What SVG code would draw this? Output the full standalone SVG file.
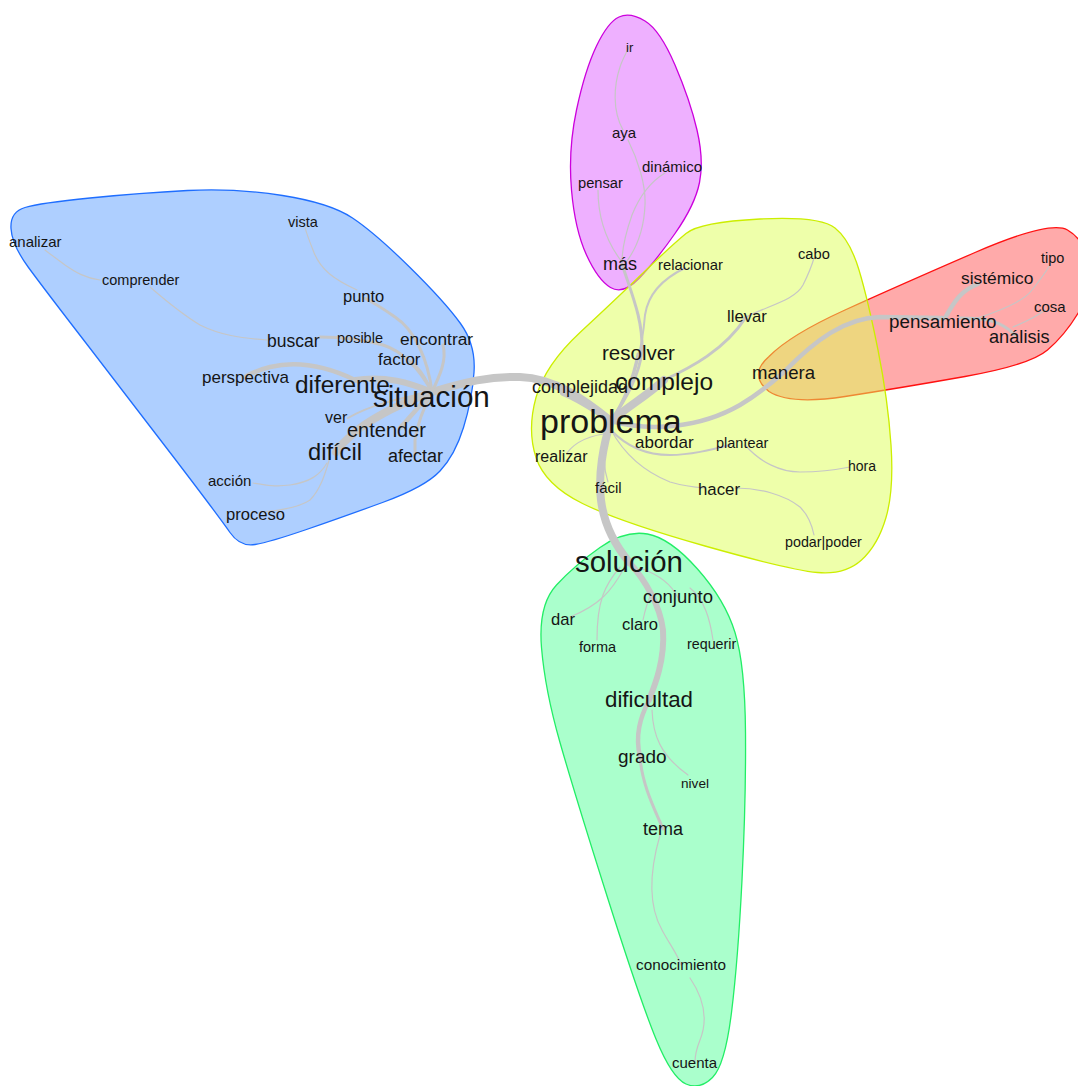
<svg xmlns="http://www.w3.org/2000/svg" width="1078" height="1086" viewBox="0 0 1078 1086">
  <style>
    .hull { stroke-width: 1.3; stroke-linejoin: round; }
    .edge { fill: none; stroke: #c6c6c6; stroke-linecap: round; }
    .w1 { stroke-width: 1.2; }
    .w2 { stroke-width: 2; }
    .w3 { stroke-width: 3; }
    .w4 { stroke-width: 4.5; }
    .w5 { stroke-width: 6; }
    .w6 { stroke-width: 8; }
    text { font-family: "Liberation Sans", Arial, sans-serif; fill: #151515; }
  </style>
  <rect width="1078" height="1086" fill="#ffffff"/>

  <!-- community hulls (half-transparent so overlaps blend) -->
  <g id="communities">
    <path class="hull" fill="#5d9fff" fill-opacity="0.5" stroke="#1f6eff" d="M11,228.5 Q10,212 25,207.5 Q40,203 90,198 Q140,193 187.5,190.5 Q235,188 282.5,195.5 Q330,203 352.5,218 Q375,233 410,267.5 Q445,302 460.5,323.5 Q476,345 474,372.5 Q472,400 463.5,427.5 Q455,455 440,471 Q425,487 382.5,502.5 Q340,518 305,530 Q270,542 255,544.5 Q240,547 230,532.5 Q220,518 175,459 Q130,400 87.5,345 Q45,290 28.5,267.5 Q12,245 11,228.5 Z"/>
    <path class="hull" fill="#55ff99" fill-opacity="0.5" stroke="#22ee66" d="M600,547.5 Q625,530 647.5,534 Q670,538 697.5,569 Q725,600 735,632.5 Q745,665 745.5,732.5 Q746,800 742,880 Q738,960 731.5,1012.5 Q725,1065 712.5,1077.5 Q700,1090 686,1084 Q672,1078 656,1039 Q640,1000 607.5,897.5 Q575,795 560,742.5 Q545,690 541.5,647.5 Q538,605 556.5,585 Q575,565 600,547.5 Z"/>
    <path class="hull" fill="#dd61ff" fill-opacity="0.5" stroke="#cc00dd" d="M619,17 Q630,12 645,21 Q660,30 675,65 Q690,100 697,130 Q704,160 699.5,182.5 Q695,205 675,233.5 Q655,262 639,278.5 Q623,295 610.5,287.5 Q598,280 586.5,255 Q575,230 571.5,190 Q568,150 576.5,110 Q585,70 596.5,46 Q608,22 619,17 Z"/>
    <path class="hull" fill="#ff5555" fill-opacity="0.5" stroke="#ff1111" d="M975,252.5 Q1050,220 1067.5,230 Q1085,240 1088.5,265 Q1092,290 1078.5,312.5 Q1065,335 1047.5,350 Q1030,365 965,376.5 Q900,388 845,396.5 Q790,405 769,391.5 Q748,375 769,356.5 Q790,335 845,310 Q900,285 975,252.5 Z"/>
    <path class="hull" fill="#ddff55" fill-opacity="0.5" stroke="#ccee00" d="M686,233.5 Q700,222 760,219 Q820,216 835,228 Q850,240 859,270 Q868,300 878,350 Q888,400 891,445 Q894,490 886,517.5 Q878,545 861.5,560 Q845,575 817.5,572.5 Q790,570 705,546 Q620,522 582.5,503.5 Q545,485 536,457.5 Q527,430 536,397.5 Q545,365 580,332.5 Q615,300 643.5,272.5 Q672,245 686,233.5 Z"/>
  </g>

  <!-- co-occurrence connectors -->
  <g id="edges">
    <!-- main spine -->
    <path class="edge w6" d="M432,392 C465,382 490,376 520,377 C555,378 585,400 611,421"/>
    <path class="edge w6" d="M611,421 C603,445 598,475 601,500 C604,525 615,545 629,562"/>
    <path class="edge w5" d="M629,562 C645,580 660,605 663,630 C665,660 655,685 649,700"/>
    <path class="edge w4" d="M649,700 C640,718 635,735 640,757"/>
    <path class="edge w3" d="M640,757 C642,785 655,810 663,829"/>
    <path class="edge w1" d="M660,835 C650,870 648,905 662,930 C670,945 678,955 681,965"/>
    <path class="edge w1" d="M690,978 C705,1000 708,1020 700,1040 C696,1050 695,1058 695,1062"/>
    <path class="edge w1" d="M652,710 C653,735 660,755 688,775"/>
    <path class="edge w1" d="M640,568 C660,575 672,585 678,598"/>
    <path class="edge w1" d="M690,588 C705,600 710,620 713,640"/>
    <path class="edge w1" d="M623,570 C612,590 600,605 570,617"/>
    <path class="edge w1" d="M620,567 C605,585 597,600 597,640"/>
    <path class="edge w1" d="M652,592 C646,605 644,615 643,620"/>

    <!-- problema neighbourhood -->
    <path class="edge w6" d="M611,421 C630,405 648,395 664,380"/>
    <path class="edge w3" d="M664,380 C690,368 725,350 746,317"/>
    <path class="edge w1" d="M746,317 C770,305 795,300 803,285 C808,275 812,265 814,258"/>
    <path class="edge w4" d="M611,421 C650,432 700,428 740,405 C760,393 775,380 784,372"/>
    <path class="edge w4" d="M784,372 C815,340 845,318 880,317 L943,318"/>
    <path class="edge w4" d="M945,318 C955,300 962,290 978,284"/>
    <path class="edge w3" d="M960,318 C985,318 1000,320 1015,335"/>
    <path class="edge w1" d="M1013,327 C1025,322 1035,318 1045,310"/>
    <path class="edge w1" d="M970,320 C1000,312 1025,300 1032,290 C1040,280 1047,270 1050,265"/>
    <path class="edge w3" d="M611,421 C625,400 633,380 638,354"/>
    <path class="edge w3" d="M611,421 C625,400 640,375 642,350 C643,320 632,295 622,264"/>
    <path class="edge w2" d="M611,421 C635,390 643,340 645,315 C648,295 660,280 685,268"/>
    <path class="edge w5" d="M611,421 C595,410 580,400 563,393"/>
    <path class="edge w1" d="M611,433 C590,435 575,442 567,453"/>
    <path class="edge w2" d="M611,430 C625,445 645,455 670,455 C690,455 710,450 730,445"/>
    <path class="edge w1" d="M745,445 C760,462 780,472 800,472 C820,472 835,470 850,467"/>
    <path class="edge w1" d="M611,430 C622,450 640,470 670,482 C680,485 690,487 705,488"/>
    <path class="edge w1" d="M735,488 C760,488 785,495 800,507 C808,515 812,525 814,535"/>
    <path class="edge w1" d="M608,440 C603,455 604,470 608,482"/>

    <!-- más group -->
    <path class="edge w1" d="M622,262 C605,240 598,215 598,190"/>
    <path class="edge w1" d="M665,173 C650,182 640,195 632,215 C625,235 622,250 622,262"/>
    <path class="edge w1" d="M628,140 C638,160 646,185 645,205 C644,230 636,250 624,265"/>
    <path class="edge w1" d="M623,130 C612,110 614,85 620,67 C623,58 627,52 629,47"/>

    <!-- situación neighbourhood -->
    <path class="edge w5" d="M432,392 C410,383 385,375 355,380"/>
    <path class="edge w4" d="M355,380 C330,368 300,360 270,367 C258,370 250,374 245,377"/>
    <path class="edge w3" d="M432,392 C428,360 415,330 395,317 C385,310 375,303 364,298"/>
    <path class="edge w1" d="M357,290 C335,280 320,270 313,250 C309,240 306,232 305,227"/>
    <path class="edge w3" d="M432,392 C440,375 447,360 443,345"/>
    <path class="edge w2" d="M432,392 C425,375 418,365 408,360"/>
    <path class="edge w3" d="M432,392 C420,370 405,352 383,345 C365,340 345,337 320,337"/>
    <path class="edge w1" d="M267,340 C240,338 220,335 200,325 C180,313 165,300 150,287"/>
    <path class="edge w1" d="M100,280 C85,278 75,272 65,265 C57,259 50,254 45,250"/>
    <path class="edge w2" d="M432,392 C400,398 370,405 348,418"/>
    <path class="edge w4" d="M432,392 C420,405 412,415 400,428"/>
    <path class="edge w6" d="M432,392 C410,400 385,410 360,428 C348,438 340,445 336,452"/>
    <path class="edge w3" d="M432,392 C425,405 418,420 415,440 L415,455"/>
    <path class="edge w1" d="M327,463 C320,475 310,482 290,485 C275,487 265,485 253,483"/>
    <path class="edge w1" d="M330,457 C325,475 320,490 310,500 C300,507 285,510 262,512"/>
  </g>

  <!-- word nodes -->
  <g id="n-analizar"><text x="9" y="247" font-size="15">analizar</text></g>
  <g id="n-vista"><text x="288" y="227" font-size="14.5">vista</text></g>
  <g id="n-comprender"><text x="102" y="285" font-size="14.5">comprender</text></g>
  <g id="n-punto"><text x="343" y="302" font-size="16.5">punto</text></g>
  <g id="n-buscar"><text x="267" y="347" font-size="17.5">buscar</text></g>
  <g id="n-posible"><text x="337" y="343" font-size="14.5">posible</text></g>
  <g id="n-encontrar"><text x="400" y="345" font-size="17.3">encontrar</text></g>
  <g id="n-factor"><text x="378" y="365" font-size="17">factor</text></g>
  <g id="n-perspectiva"><text x="202" y="383" font-size="17">perspectiva</text></g>
  <g id="n-diferente"><text x="295" y="393" font-size="24.4">diferente</text></g>
  <g id="n-situacion"><text x="373" y="407" font-size="29.6">situación</text></g>
  <g id="n-ver"><text x="325" y="423" font-size="16">ver</text></g>
  <g id="n-entender"><text x="347" y="437" font-size="20">entender</text></g>
  <g id="n-dificil"><text x="308" y="460" font-size="23.7">difícil</text></g>
  <g id="n-afectar"><text x="388" y="462" font-size="18">afectar</text></g>
  <g id="n-accion"><text x="208" y="486" font-size="15">acción</text></g>
  <g id="n-proceso"><text x="226" y="520" font-size="16.6">proceso</text></g>

  <g id="n-ir"><text x="626" y="52" font-size="13">ir</text></g>
  <g id="n-aya"><text x="612" y="138" font-size="15">aya</text></g>
  <g id="n-dinamico"><text x="642" y="172" font-size="15">dinámico</text></g>
  <g id="n-pensar"><text x="578" y="188" font-size="14.7">pensar</text></g>
  <g id="n-mas"><text x="603" y="270" font-size="18">más</text></g>

  <g id="n-relacionar"><text x="658" y="270" font-size="14.8">relacionar</text></g>
  <g id="n-cabo"><text x="798" y="259" font-size="14.7">cabo</text></g>
  <g id="n-llevar"><text x="727" y="322" font-size="16.7">llevar</text></g>
  <g id="n-resolver"><text x="602" y="360" font-size="20.5">resolver</text></g>
  <g id="n-complejidad"><text x="532" y="393" font-size="18">complejidad</text></g>
  <g id="n-complejo"><text x="615" y="390" font-size="24.5">complejo</text></g>
  <g id="n-manera"><text x="752" y="379" font-size="18.6">manera</text></g>
  <g id="n-problema"><text x="540" y="433" font-size="34">problema</text></g>
  <g id="n-abordar"><text x="635" y="448" font-size="17">abordar</text></g>
  <g id="n-plantear"><text x="716" y="448" font-size="14.5">plantear</text></g>
  <g id="n-realizar"><text x="535" y="462" font-size="16">realizar</text></g>
  <g id="n-hora"><text x="848" y="471" font-size="14">hora</text></g>
  <g id="n-facil"><text x="595" y="493" font-size="15">fácil</text></g>
  <g id="n-hacer"><text x="698" y="495" font-size="16.8">hacer</text></g>
  <g id="n-podar-poder"><text x="785" y="547" font-size="14.3">podar|poder</text></g>

  <g id="n-tipo"><text x="1041" y="263" font-size="14.5">tipo</text></g>
  <g id="n-sistemico"><text x="961" y="284" font-size="17.4">sistémico</text></g>
  <g id="n-cosa"><text x="1034" y="312" font-size="15">cosa</text></g>
  <g id="n-pensamiento"><text x="889" y="328" font-size="18.8">pensamiento</text></g>
  <g id="n-analisis"><text x="989" y="343" font-size="18.2">análisis</text></g>

  <g id="n-solucion"><text x="575" y="572" font-size="29.4">solución</text></g>
  <g id="n-conjunto"><text x="643" y="603" font-size="18.5">conjunto</text></g>
  <g id="n-dar"><text x="551" y="625" font-size="16.6">dar</text></g>
  <g id="n-claro"><text x="622" y="630" font-size="16.6">claro</text></g>
  <g id="n-forma"><text x="579" y="652" font-size="14.5">forma</text></g>
  <g id="n-requerir"><text x="687" y="649" font-size="14.3">requerir</text></g>
  <g id="n-dificultad"><text x="605" y="707" font-size="22.3">dificultad</text></g>
  <g id="n-grado"><text x="618" y="763" font-size="19">grado</text></g>
  <g id="n-nivel"><text x="681" y="788" font-size="13.6">nivel</text></g>
  <g id="n-tema"><text x="643" y="835" font-size="18">tema</text></g>
  <g id="n-conocimiento"><text x="636" y="970" font-size="15.3">conocimiento</text></g>
  <g id="n-cuenta"><text x="672" y="1068" font-size="15">cuenta</text></g>
</svg>
